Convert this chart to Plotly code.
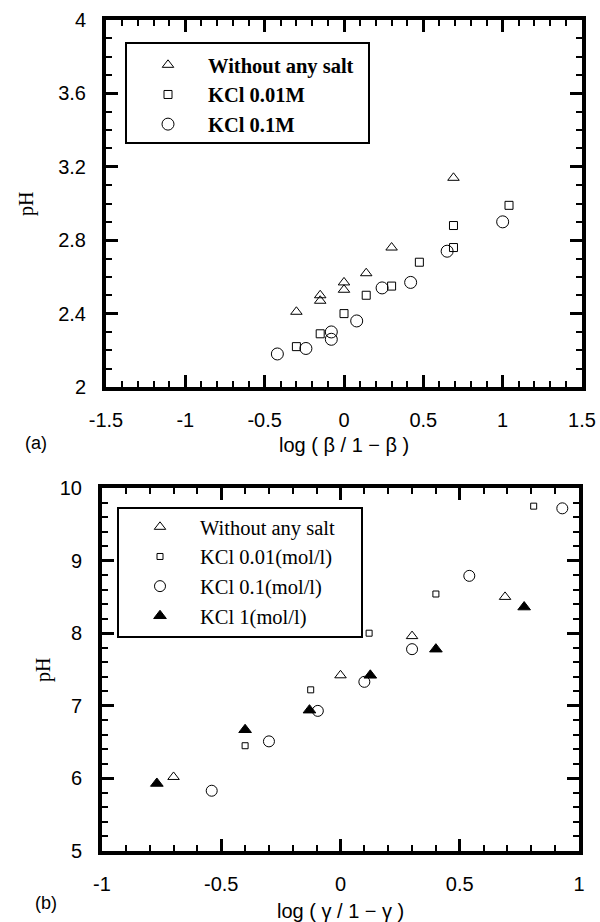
import plotly.graph_objects as go

# ---------------- data: panel (a) ----------------
a_salt_x = [-0.30, -0.15, -0.15, 0.0, 0.0, 0.14, 0.30, 0.69]
a_salt_y = [2.41, 2.50, 2.47, 2.57, 2.53, 2.62, 2.76, 3.14]
a_k001_x = [-0.30, -0.15, 0.0, 0.14, 0.30, 0.475, 0.69, 0.69, 1.04]
a_k001_y = [2.22, 2.29, 2.40, 2.50, 2.55, 2.68, 2.76, 2.88, 2.99]
a_k01_x = [-0.42, -0.24, -0.08, -0.08, 0.08, 0.24, 0.42, 0.65, 1.00]
a_k01_y = [2.18, 2.21, 2.30, 2.26, 2.36, 2.54, 2.57, 2.74, 2.90]
a_names = ["Without any salt", "KCl 0.01M", "KCl 0.1M"]
a_xticks = [-1.5, -1, -0.5, 0, 0.5, 1, 1.5]
a_xticktext = ["-1.5", "-1", "-0.5", "0", "0.5", "1", "1.5"]
a_yticks = [2, 2.4, 2.8, 3.2, 3.6, 4]
a_yticktext = ["2", "2.4", "2.8", "3.2", "3.6", "4"]

# ---------------- data: panel (b) ----------------
b_salt_x = [-0.70, 0.0, 0.30, 0.69]
b_salt_y = [6.02, 7.42, 7.96, 8.50]
b_k001_x = [-0.40, -0.125, 0.12, 0.40, 0.81]
b_k001_y = [6.45, 7.22, 8.00, 8.54, 9.75]
b_k01_x = [-0.54, -0.30, -0.095, 0.10, 0.30, 0.54, 0.93]
b_k01_y = [5.83, 6.51, 6.93, 7.33, 7.78, 8.79, 9.72]
b_k1_x = [-0.77, -0.40, -0.13, 0.125, 0.40, 0.77]
b_k1_y = [5.93, 6.67, 6.94, 7.42, 7.78, 8.36]
b_names = ["Without any salt", "KCl 0.01(mol/l)", "KCl 0.1(mol/l)", "KCl 1(mol/l)"]
b_xticks = [-1, -0.5, 0, 0.5, 1]
b_xticktext = ["-1", "-0.5", "0", "0.5", "1"]
b_yticks = [5, 6, 7, 8, 9, 10]
b_yticktext = ["5", "6", "7", "8", "9", "10"]

W, H = 600, 922
SANS = "Liberation Sans, Arial, sans-serif"
SERIF = "Liberation Serif, Times New Roman, serif"


def px(x):
    return x / W


def py(y):
    return 1 - y / H


fig = go.Figure()


def add(x, y, name, symbol, size, xa, ya, leg):
    fig.add_trace(go.Scatter(
        x=x, y=y, mode="markers", name=name, xaxis=xa, yaxis=ya, legend=leg,
        marker=dict(symbol=symbol, size=size, color="black",
                    line=dict(color="black", width=1)),
    ))


add(a_salt_x, a_salt_y, a_names[0], "triangle-up-open", 10, "x", "y", "legend")
add(a_k001_x, a_k001_y, a_names[1], "square-open", 8, "x", "y", "legend")
add(a_k01_x, a_k01_y, a_names[2], "circle-open", 12, "x", "y", "legend")

add(b_salt_x, b_salt_y, b_names[0], "triangle-up-open", 10, "x2", "y2", "legend2")
add(b_k001_x, b_k001_y, b_names[1], "square-open", 6, "x2", "y2", "legend2")
add(b_k01_x, b_k01_y, b_names[2], "circle-open", 11, "x2", "y2", "legend2")
add(b_k1_x, b_k1_y, b_names[3], "triangle-up", 11, "x2", "y2", "legend2")

tickfont = dict(family=SANS, size=20, color="black")


def axis(domain, rng, tickvals, ticktext, minor_dtick, standoff):
    return dict(
        domain=domain, range=rng, tickmode="array", tickvals=tickvals,
        ticktext=ticktext, ticks="inside", ticklen=12, tickwidth=2.5,
        tickcolor="black", showline=True, linewidth=4, linecolor="black",
        mirror="allticks", showgrid=False, zeroline=False, tickfont=tickfont,
        ticklabelstandoff=standoff, automargin=False,
        minor=dict(dtick=minor_dtick, ticks="inside", ticklen=6,
                   tickwidth=2, tickcolor="black", showgrid=False),
    )


def ann(text, x, y, font, angle=0):
    return dict(text=text, x=px(x), y=py(y), xref="paper", yref="paper",
                xanchor="center", yanchor="middle", textangle=angle,
                showarrow=False, font=font)


lab_font = dict(family=SANS, size=20, color="black")
tag_font = dict(family=SANS, size=18, color="black")
ph_font = dict(family=SERIF, size=20, color="black")

fig.update_layout(
    width=W, height=H, margin=dict(l=0, r=0, t=0, b=0, autoexpand=False),
    paper_bgcolor="white", plot_bgcolor="white",
    xaxis=dict(axis([px(106), px(582)], [-1.5, 1.5], a_xticks, a_xticktext, 0.1, 12), anchor="y"),
    yaxis=dict(axis([py(387), py(20)], [2, 4], a_yticks, a_yticktext, 0.1, 12), anchor="x"),
    xaxis2=dict(axis([px(102), px(579)], [-1, 1], b_xticks, b_xticktext, 0.1, 12), anchor="y2"),
    yaxis2=dict(axis([py(851), py(488)], [5, 10], b_yticks, b_yticktext, 0.2, 12), anchor="x2"),
    legend=dict(x=px(128), y=py(45), xanchor="left", yanchor="top",
                bgcolor="rgba(0,0,0,0)", borderwidth=0, itemwidth=70,
                font=dict(family=SERIF, size=20.5, color="black", weight="bold")),
    legend2=dict(x=px(120), y=py(507), xanchor="left", yanchor="top",
                 bgcolor="rgba(0,0,0,0)", borderwidth=0, itemwidth=70,
                 font=dict(family=SERIF, size=20.5, color="black")),
    shapes=[
        dict(type="rect", xref="paper", yref="paper", x0=px(126), x1=px(369),
             y0=py(143), y1=py(43), line=dict(color="black", width=2)),
        dict(type="rect", xref="paper", yref="paper", x0=px(118), x1=px(362),
             y0=py(637), y1=py(508), line=dict(color="black", width=2)),
    ],
    annotations=[
        ann("(a)", 36, 443, tag_font),
        ann("log ( β / 1 − β )", 344, 445, lab_font),
        ann("pH", 26, 204, ph_font, -90),
        ann("(b)", 46, 903, tag_font),
        ann("log ( γ / 1 − γ )", 340, 911, lab_font),
        ann("pH", 43, 670, ph_font, -90),
    ],
)

fig.write_html("out.html", config={"displayModeBar": False},
               post_script="document.body.style.margin='0';")
